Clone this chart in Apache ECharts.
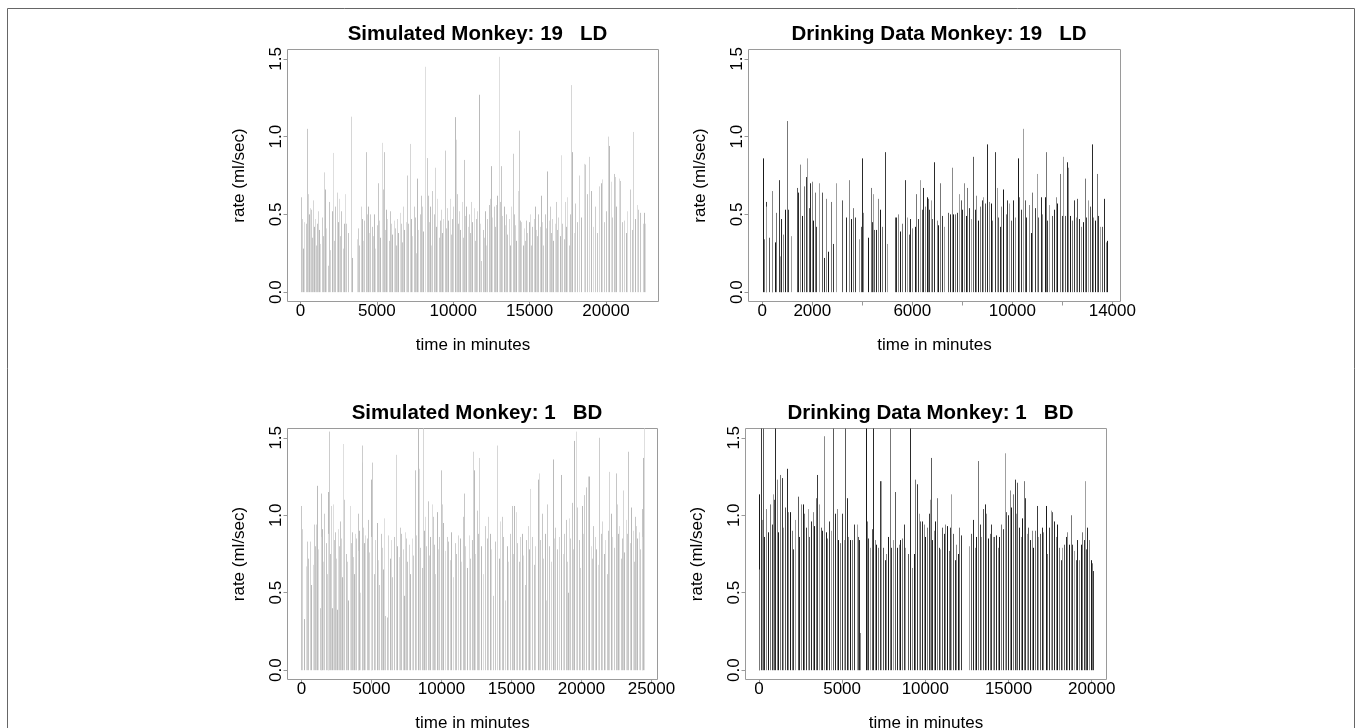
<!DOCTYPE html>
<html>
<head>
<meta charset="utf-8">
<title>Monkey drinking rates</title>
<script src="https://cdn.jsdelivr.net/npm/echarts@6/dist/echarts.min.js"></script>
<style>
  html, body { margin: 0; padding: 0; background: #fff; }
  #chart { width: 1358px; height: 728px; }
</style>
</head>
<body>
<div id="chart"></div>
<script>
// [time in minutes, rate in ml/sec]
const sim19 = [
  [50,0.61],[120,0.47],[190,0.28],[260,0.45],[330,0.44],[437,1.05],[480,0.63],[540,0.50],[600,0.54],[660,0.53],
  [730,0.35],[800,0.59],[870,0.42],[940,0.47],[1010,0.30],[1080,0.44],[1150,0.52],[1230,0.40],[1300,0.31],[1380,0.48],
  [1450,0.36],[1572,0.77],[1620,0.66],[1700,0.41],[1790,0.17],[1870,0.58],[1950,0.27],[2040,0.52],[2118,0.895],[2200,0.33],
  [2290,0.55],[2370,0.64],[2440,0.45],[2520,0.60],[2600,0.36],[2680,0.52],[2760,0.28],[2850,0.44],[2930,0.63],[3010,0.44],
  [3100,0.38],[3275,1.128],[3380,0.22],[3700,0.34],[3780,0.41],[3860,0.30],[3940,0.55],[4020,0.47],[4100,0.33],[4180,0.46],
  [4258,0.90],[4330,0.50],[4410,0.55],[4490,0.38],[4570,0.50],[4650,0.42],[4730,0.36],[4810,0.50],[4890,0.28],[4980,0.43],
  [5060,0.70],[5150,0.46],[5230,0.35],[5306,0.96],[5380,0.66],[5458,0.90],[5530,0.40],[5610,0.53],[5690,0.47],[5770,0.33],
  [5850,0.52],[5930,0.44],[6010,0.37],[6090,0.46],[6170,0.41],[6250,0.30],[6330,0.47],[6410,0.38],[6490,0.51],[6570,0.44],
  [6650,0.32],[6730,0.55],[6810,0.40],[6890,0.45],[6970,0.75],[7060,0.44],[7160,0.953],[7240,0.47],[7320,0.36],[7400,0.55],
  [7480,0.48],[7560,0.25],[7640,0.73],[7720,0.40],[7800,0.50],[7880,0.62],[7960,0.55],[8040,0.39],[8144,1.449],[8253,0.862],
  [8320,0.62],[8400,0.45],[8480,0.55],[8560,0.30],[8640,0.65],[8720,0.50],[8800,0.80],[8880,0.42],[8960,0.60],[9040,0.35],
  [9120,0.46],[9200,0.53],[9280,0.38],[9360,0.47],[9432,0.91],[9520,0.41],[9600,0.54],[9680,0.46],[9760,0.60],[9840,0.37],
  [9920,0.47],[10000,0.55],[10108,1.125],[10150,0.98],[10230,0.63],[10310,0.44],[10390,0.52],[10470,0.40],[10550,0.58],[10620,0.35],
  [10697,0.85],[10780,0.49],[10860,0.55],[10940,0.42],[11020,0.50],[11100,0.38],[11180,0.58],[11260,0.45],[11340,0.54],[11420,0.33],
  [11500,0.47],[11580,0.52],[11681,1.269],[11760,0.44],[11840,0.20],[11920,0.40],[12000,0.35],[12080,0.52],[12160,0.30],[12240,0.47],
  [12320,0.56],[12400,0.60],[12490,0.81],[12570,0.48],[12650,0.55],[12730,0.42],[12810,0.56],[12890,0.62],[12990,1.513],[13060,0.58],
  [13143,0.81],[13220,0.49],[13300,0.55],[13380,0.43],[13460,0.50],[13540,0.37],[13620,0.47],[13700,0.30],[13780,0.55],[13908,0.89],
  [13980,0.50],[14060,0.43],[14140,0.33],[14220,0.65],[14300,1.038],[14380,0.46],[14460,0.45],[14540,0.30],[14620,0.41],[14700,0.33],
  [14780,0.46],[14860,0.38],[14940,0.45],[15020,0.50],[15100,0.30],[15180,0.42],[15260,0.47],[15340,0.55],[15420,0.40],[15500,0.36],
  [15580,0.50],[15660,0.42],[15740,0.62],[15820,0.45],[15900,0.30],[15980,0.50],[16060,0.41],[16157,0.776],[16240,0.46],[16320,0.55],
  [16400,0.38],[16480,0.47],[16560,0.33],[16640,0.44],[16720,0.58],[16800,0.40],[16880,0.48],[16960,0.36],[17074,0.88],[17150,0.44],
  [17230,0.34],[17310,0.58],[17390,0.42],[17470,0.61],[17560,0.30],[17640,0.50],[17729,1.331],[17800,0.90],[17880,0.38],[17960,0.57],
  [18100,0.45],[18230,0.75],[18380,0.48],[18555,0.825],[18602,0.82],[18730,0.63],[18887,0.87],[19033,0.65],[19180,0.42],[19300,0.55],
  [19420,0.38],[19537,0.68],[19646,0.70],[19755,0.725],[19880,0.45],[19990,0.52],[20130,1.0],[20196,0.94],[20301,0.71],[20420,0.48],
  [20523,0.76],[20600,0.74],[20690,0.55],[20849,0.73],[20950,0.715],[21060,0.45],[21170,0.46],[21300,0.38],[21400,0.52],[21568,0.66],
  [21680,0.40],[21787,1.03],[21880,0.47],[22004,0.56],[22120,0.53],[22260,0.51],[22400,0.44],[22483,0.51],[22540,0.44]
];

const drink19 = [
  [20,0.86],[60,0.34],[130,0.58],[160,0.55],[265,0.35],[372,0.30],[400,0.65],[492,0.32],[559,0.51],[665,0.72],
  [705,0.23],[730,0.23],[758,0.47],[839,0.37],[892,0.53],[972,1.10],[1025,0.53],[1132,0.36],[1372,0.67],[1425,0.64],
  [1505,0.82],[1599,0.49],[1665,0.68],[1732,0.74],[1800,0.86],[1865,0.54],[1892,0.70],[1972,0.71],[2025,0.46],[2105,0.64],
  [2159,0.42],[2265,0.70],[2372,0.64],[2465,0.22],[2532,0.60],[2639,0.26],[2732,0.58],[2839,0.31],[2932,0.70],[3199,0.59],
  [3332,0.48],[3465,0.72],[3532,0.47],[3625,0.54],[3692,0.48],[3865,0.34],[3932,0.42],[3972,0.86],[4025,0.51],[4225,0.35],
  [4332,0.67],[4399,0.45],[4439,0.63],[4465,0.40],[4532,0.40],[4639,0.60],[4692,0.53],[4799,0.42],[4905,0.90],[4999,0.31],
  [5292,0.48],[5332,0.48],[5439,0.50],[5505,0.39],[5599,0.44],[5705,0.72],[5772,0.48],[5865,0.37],[5892,0.47],[5999,0.41],
  [6092,0.42],[6159,0.63],[6225,0.47],[6305,0.72],[6372,0.53],[6425,0.67],[6505,0.55],[6599,0.61],[6639,0.60],[6665,0.53],
  [6732,0.59],[6799,0.47],[6865,0.835],[6972,0.46],[7039,0.43],[7092,0.70],[7199,0.49],[7265,0.42],[7425,0.51],[7492,0.50],
  [7572,0.80],[7625,0.50],[7705,0.50],[7799,0.51],[7865,0.63],[7932,0.59],[7999,0.53],[8065,0.70],[8132,0.49],[8199,0.67],
  [8265,0.54],[8332,0.47],[8439,0.87],[8505,0.53],[8559,0.62],[8639,0.46],[8705,0.55],[8772,0.59],[8825,0.61],[8905,0.57],
  [8999,0.95],[9065,0.58],[9132,0.57],[9199,0.46],[9305,0.90],[9372,0.67],[9412,0.48],[9492,0.42],[9559,0.55],[9625,0.66],
  [9732,0.50],[9799,0.59],[9865,0.57],[9932,0.46],[10025,0.59],[10105,0.48],[10212,0.86],[10265,0.61],[10332,0.53],[10425,1.05],
  [10492,0.59],[10559,0.48],[10665,0.56],[10732,0.38],[10799,0.64],[10892,0.54],[10972,0.76],[11039,0.48],[11132,0.61],[11199,0.50],
  [11305,0.61],[11332,0.90],[11399,0.46],[11465,0.56],[11572,0.49],[11665,0.53],[11732,0.61],[11799,0.57],[11892,0.76],[11972,0.49],
  [12039,0.87],[12092,0.49],[12172,0.835],[12239,0.80],[12305,0.49],[12399,0.46],[12465,0.59],[12532,0.48],[12599,0.60],[12665,0.47],
  [12732,0.42],[12825,0.45],[12905,0.73],[12959,0.48],[13039,0.59],[13092,0.55],[13172,0.95],[13225,0.48],[13305,0.46],[13372,0.76],
  [13425,0.49],[13505,0.42],[13572,0.42],[13665,0.60],[13732,0.32],[13775,0.33]
];

const sim1 = [
  [0,1.06],[40,0.91],[200,0.33],[300,0.67],[417,0.83],[500,0.72],[607,0.83],[700,0.55],[800,0.68],[916,0.94],
  [1000,0.80],[1035,0.94],[1131,1.19],[1200,0.78],[1300,0.40],[1369,1.14],[1420,0.86],[1488,0.91],[1550,0.70],[1630,1.01],
  [1720,0.82],[1800,0.62],[1868,1.15],[1920,0.88],[1987,1.54],[2050,0.75],[2106,1.06],[2160,0.40],[2225,1.07],[2300,0.84],
  [2392,0.89],[2450,0.72],[2520,0.39],[2582,0.91],[2650,0.80],[2749,0.96],[2820,0.85],[2900,0.60],[2987,1.46],[3058,1.10],
  [3150,0.75],[3250,0.70],[3350,0.45],[3463,1.06],[3520,0.82],[3582,0.89],[3650,0.73],[3720,0.62],[3820,0.88],[3900,0.85],
  [4010,1.01],[4070,0.77],[4129,0.90],[4200,0.50],[4296,1.45],[4344,1.34],[4415,0.92],[4480,0.82],[4560,0.87],[4650,0.85],
  [4772,0.97],[4850,0.76],[4939,1.23],[5000,0.86],[5058,1.34],[5150,0.62],[5250,0.84],[5367,0.95],[5450,0.71],[5560,0.55],
  [5676,0.88],[5760,0.79],[5830,0.65],[5914,0.98],[6000,0.35],[6080,0.34],[6200,0.87],[6300,0.72],[6400,0.84],[6500,0.60],
  [6620,0.86],[6747,1.39],[6850,0.80],[6950,0.73],[7033,0.92],[7120,0.88],[7230,0.78],[7300,0.48],[7390,0.89],[7480,0.85],
  [7570,0.70],[7680,0.81],[7780,0.62],[7880,0.85],[7980,0.74],[8104,1.29],[8200,0.87],[8342,1.60],[8413,1.30],[8500,0.79],
  [8580,0.66],[8651,1.60],[8730,0.90],[8818,0.99],[8900,0.80],[9008,1.09],[9100,0.74],[9200,0.86],[9294,1.07],[9365,0.99],
  [9450,0.81],[9550,0.62],[9651,1.02],[9750,0.78],[9850,0.86],[9937,1.29],[10008,1.07],[10127,0.95],[10250,0.77],[10380,0.86],
  [10484,0.83],[10600,0.71],[10700,0.89],[10820,0.60],[10950,0.82],[11050,0.75],[11198,0.87],[11300,0.85],[11420,0.70],[11555,0.99],
  [11626,1.14],[11700,0.80],[11830,0.66],[11950,0.87],[12050,0.72],[12150,0.84],[12269,1.41],[12340,1.29],[12420,0.75],[12507,1.03],
  [12600,0.88],[12697,1.37],[12800,0.80],[12950,0.62],[13102,0.93],[13220,0.85],[13340,0.99],[13459,0.88],[13560,0.78],[13700,0.48],
  [13820,0.83],[13983,1.45],[14080,0.72],[14173,0.96],[14292,0.99],[14400,0.86],[14520,0.45],[14650,0.80],[14780,0.70],[14900,0.88],
  [15006,1.06],[15100,0.75],[15196,1.06],[15315,1.02],[15420,0.82],[15550,0.70],[15640,0.86],[15720,0.88],[15850,0.74],[15950,0.55],
  [16050,0.84],[16148,0.93],[16220,0.78],[16315,1.17],[16450,0.86],[16580,0.68],[16700,0.80],[16862,1.23],[16958,1.27],[17050,0.84],
  [17148,1.01],[17260,0.72],[17380,0.88],[17460,0.45],[17553,1.07],[17680,0.80],[17800,0.70],[17933,1.36],[18020,0.85],[18100,0.92],
  [18250,0.78],[18380,0.86],[18528,1.26],[18650,0.75],[18760,0.88],[18862,0.97],[18980,0.70],[19050,0.50],[19123,0.98],[19200,0.85],
  [19290,1.08],[19380,0.78],[19457,1.48],[19576,1.54],[19695,1.05],[19800,0.84],[19900,0.66],[20004,1.06],[20100,0.88],[20171,1.13],
  [20313,1.18],[20432,1.25],[20528,1.25],[20650,0.80],[20750,0.72],[20837,0.93],[20950,0.86],[21050,0.78],[21150,0.68],[21265,1.50],
  [21380,0.88],[21480,0.96],[21600,0.75],[21700,0.84],[21800,0.62],[21908,0.90],[21979,1.28],[22098,1.01],[22200,0.86],[22300,0.79],
  [22455,1.27],[22503,1.07],[22600,0.88],[22693,0.93],[22800,0.72],[22900,0.85],[22979,1.16],[23050,0.76],[23146,0.97],[23250,0.88],
  [23336,1.41],[23450,0.82],[23526,1.05],[23650,0.90],[23720,0.70],[23812,0.99],[23883,0.93],[23980,0.85],[24098,0.89],[24180,0.78],
  [24288,1.04],[24350,0.86],[24407,1.37],[24435,1.60]
];

const drink1 = [
  [0,1.135],[30,0.65],[100,2.0],[161,0.97],[221,2.0],[301,0.86],[422,1.04],[522,0.89],[663,1.07],[763,0.94],
  [823,1.135],[924,1.10],[964,2.0],[1064,1.23],[1165,0.89],[1265,1.26],[1365,1.24],[1466,0.92],[1566,1.05],[1687,1.30],
  [1767,1.02],[1867,1.02],[1968,0.90],[2068,0.78],[2169,0.97],[2329,1.12],[2430,0.86],[2530,1.07],[2630,1.07],[2731,1.01],
  [2831,0.92],[2932,1.04],[3032,0.86],[3132,0.96],[3233,1.02],[3333,0.93],[3434,1.11],[3514,1.26],[3614,1.07],[3715,0.92],
  [3815,0.90],[3916,1.51],[4016,0.89],[4116,0.85],[4237,0.96],[4337,0.90],[4478,2.0],[4578,1.01],[4679,1.04],[4779,0.84],
  [4900,0.82],[5020,1.01],[5140,0.84],[5181,2.0],[5281,1.11],[5381,0.86],[5482,0.84],[5622,0.84],[5743,0.94],[5883,0.94],
  [5984,0.86],[6044,0.84],[6104,0.24],[6446,2.0],[6526,0.96],[6586,0.85],[6687,0.79],[6787,0.91],[6847,2.0],[6948,0.84],
  [7028,0.81],[7128,0.79],[7249,1.22],[7349,1.22],[7450,0.79],[7550,0.71],[7650,0.75],[7751,0.86],[7851,2.0],[7952,0.79],
  [8052,0.84],[8193,1.15],[8293,0.79],[8393,0.81],[8494,0.84],[8594,0.85],[8695,0.94],[8795,0.79],[8956,0.75],[9056,2.0],
  [9197,0.66],[9297,0.75],[9397,1.23],[9498,1.20],[9598,1.01],[9699,0.96],[9799,0.96],[9899,0.94],[10000,0.86],[10100,0.92],
  [10201,1.01],[10301,1.10],[10341,1.37],[10401,0.84],[10502,0.90],[10602,0.96],[10703,1.11],[10803,0.79],[10903,0.78],[11004,0.92],
  [11104,0.88],[11205,0.94],[11305,0.93],[11405,0.77],[11506,0.92],[11566,1.135],[11666,0.88],[11767,0.71],[11867,0.81],[11968,0.75],
  [12048,0.92],[12148,0.87],[12650,0.80],[12771,0.88],[12851,0.97],[12972,0.79],[13072,0.86],[13172,1.35],[13273,0.94],[13373,0.86],
  [13474,1.04],[13574,1.07],[13674,1.01],[13775,0.85],[13875,0.88],[13976,0.94],[14056,0.86],[14156,0.86],[14257,0.87],[14357,0.79],
  [14458,0.86],[14558,0.94],[14658,0.91],[14759,1.40],[14859,1.02],[14960,1.00],[15060,1.16],[15160,1.05],[15261,1.135],[15361,1.23],
  [15421,1.01],[15522,1.21],[15622,0.92],[15723,0.86],[15823,0.98],[15923,1.22],[15984,1.11],[16084,0.88],[16184,0.92],[16285,0.84],
  [16385,0.90],[16486,0.79],[16586,0.90],[16686,1.06],[16787,0.86],[16887,0.88],[16988,0.92],[17088,0.89],[17229,1.06],[17329,0.75],
  [17430,0.92],[17530,1.03],[17630,1.02],[17731,0.96],[17831,0.86],[17932,0.94],[18032,0.79],[18132,0.71],[18233,0.79],[18333,0.81],
  [18434,0.86],[18534,0.89],[18634,0.81],[18735,1.00],[18835,0.81],[18936,0.77],[19036,0.71],[19136,0.84],[19237,0.71],[19337,0.81],
  [19438,0.89],[19538,0.84],[19598,1.22],[19678,0.78],[19739,0.92],[19839,0.84],[19940,0.71],[20040,0.69],[20084,0.64]
];

const yTicks = [0, 0.5, 1.0, 1.5];
const xTicksSim19 = [0, 5000, 10000, 15000, 20000];
const xTicksDrink19 = [0, 2000, 4000, 6000, 8000, 10000, 12000, 14000];
const xLabelsDrink19 = [0, 2000, 6000, 10000, 14000];
const xTicksSim1 = [0, 5000, 10000, 15000, 20000, 25000];
const xTicksDrink1 = [0, 5000, 10000, 15000, 20000];

const FONT = 'Liberation Sans, Arial, Helvetica, sans-serif';
const lightShades = ['#c6c6c6', '#d6d6d6', '#bababa', '#dedede', '#cccccc'];
const darkShades = ['#1a1a1a', '#777777', '#3c3c3c', '#a0a0a0', '#5a5a5a', '#2a2a2a', '#8a8a8a'];

const panels = [
  { title: 'Simulated Monkey: 19   LD', box: [287, 49, 658, 301], xlim: [-850, 23440],
    ticks: xTicksSim19, labels: xTicksSim19, data: sim19, shades: lightShades },
  { title: 'Drinking Data Monkey: 19   LD', box: [748, 49, 1120, 301], xlim: [-551, 14326],
    ticks: xTicksDrink19, labels: xLabelsDrink19, data: drink19, shades: darkShades },
  { title: 'Simulated Monkey: 1   BD', box: [287, 428, 657, 679], xlim: [-1000, 25430],
    ticks: xTicksSim1, labels: xTicksSim1, data: sim1, shades: lightShades },
  { title: 'Drinking Data Monkey: 1   BD', box: [745, 428, 1106, 679], xlim: [-803, 20887],
    ticks: xTicksDrink1, labels: xTicksDrink1, data: drink1, shades: darkShades }
];

const chart = echarts.init(document.getElementById('chart'), null, { renderer: 'canvas' });

const option = {
  animation: false,
  backgroundColor: '#fff',
  title: panels.map(p => ({
    text: p.title,
    left: (p.box[0] + p.box[2]) / 2,
    top: p.box[1] - 30,
    textAlign: 'center',
    textStyle: { fontFamily: FONT, fontSize: 20.5, fontWeight: 'bold', color: '#000' }
  })),
  grid: panels.map(p => ({
    left: p.box[0] + 0.5,
    top: p.box[1] + 0.5,
    width: p.box[2] - p.box[0],
    height: p.box[3] - p.box[1],
    outerBoundsMode: 'none',
    containLabel: false,
    show: true,
    borderColor: '#9a9a9a',
    borderWidth: 1,
    backgroundColor: 'transparent'
  })),
  xAxis: panels.map((p, i) => ({
    type: 'value',
    gridIndex: i,
    position: 'bottom',
    min: p.xlim[0],
    max: p.xlim[1],
    splitLine: { show: false },
    axisLine: { show: false, onZero: false },
    axisTick: { show: true, length: 4, inside: false, customValues: p.ticks, lineStyle: { color: '#9a9a9a' } },
    axisLabel: {
      customValues: p.labels, margin: 1, color: '#000', fontFamily: FONT, fontSize: 17,
      formatter: v => String(v)
    },
    name: 'time in minutes',
    nameLocation: 'middle',
    nameGap: 35,
    nameTextStyle: { fontFamily: FONT, fontSize: 17, color: '#000' }
  })),
  yAxis: panels.map((p, i) => ({
    type: 'value',
    gridIndex: i,
    position: 'left',
    min: -0.06,
    max: 1.56,
    splitLine: { show: false },
    axisLine: { show: false, onZero: false },
    axisTick: { show: true, length: 4, customValues: yTicks, lineStyle: { color: '#9a9a9a' } },
    axisLabel: {
      customValues: yTicks, rotate: 90, margin: 3, color: '#000', fontFamily: FONT, fontSize: 17,
      formatter: v => v.toFixed(1)
    },
    name: 'rate (ml/sec)',
    nameLocation: 'middle',
    nameGap: 40,
    nameTextStyle: { fontFamily: FONT, fontSize: 17, color: '#000' }
  })),
  graphic: [{
    type: 'rect',
    shape: { x: 7.5, y: 8.5, width: 1347, height: 740 },
    style: { fill: 'none', stroke: '#666', lineWidth: 1 },
    silent: true
  }],
  series: panels.map((p, i) => ({
    type: 'custom',
    xAxisIndex: i,
    yAxisIndex: i,
    clip: true,
    data: p.data,
    renderItem: (params, api) => {
      const x = api.value(0);
      const y = api.value(1);
      const p0 = api.coord([x, 0]);
      const p1 = api.coord([x, y]);
      const px = Math.round(p0[0]) + 0.5;
      return {
        type: 'line',
        shape: { x1: px, y1: p0[1], x2: px, y2: p1[1] },
        style: { stroke: p.shades[params.dataIndex % p.shades.length], lineWidth: 1 }
      };
    }
  }))
};

chart.setOption(option);
</script>
</body>
</html>
